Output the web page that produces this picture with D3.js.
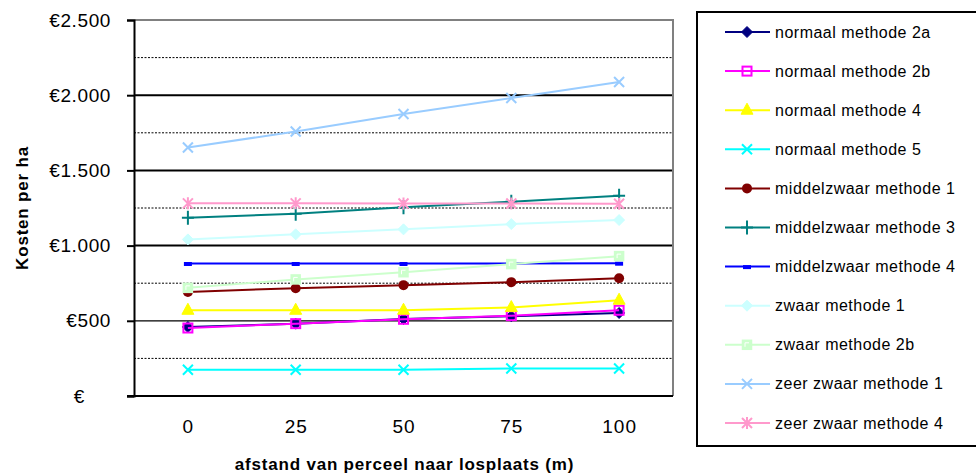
<!DOCTYPE html>
<html>
<head>
<meta charset="utf-8">
<script src="https://cdn.jsdelivr.net/npm/d3@7"></script>
<style>
  html, body { margin: 0; padding: 0; background: #fff; }
  svg { display: block; font-family: Arial, "Liberation Sans", sans-serif; }
</style>
</head>
<body>
<svg id="chart" width="976" height="476"></svg>
<script>
// ---- data ----
const categories = ["0", "25", "50", "75", "100"];
const seriesNames = [
  "normaal methode 2a", "normaal methode 2b", "normaal methode 4", "normaal methode 5",
  "middelzwaar methode 1", "middelzwaar methode 3", "middelzwaar methode 4",
  "zwaar methode 1", "zwaar methode 2b", "zeer zwaar methode 1", "zeer zwaar methode 4"
];
const normaal2a = [459, 481, 512, 530, 552];
const normaal2b = [452, 481, 510, 534, 570];
const normaal4 = [570, 570, 570, 588, 637];
const normaal5 = [175, 175, 175, 183, 183];
const middelzwaar1 = [692, 717, 737, 757, 783];
const middelzwaar3 = [1185, 1212, 1255, 1292, 1332];
const middelzwaar4 = [881, 881, 881, 881, 883];
const zwaar1 = [1041, 1075, 1108, 1143, 1170];
const zwaar2b = [719, 775, 823, 877, 930];
const zeerzwaar1 = [1652, 1759, 1875, 1981, 2088];
const zeerzwaar4 = [1281, 1281, 1280, 1280, 1278];
const yTicks = [0, 500, 1000, 1500, 2000, 2500];
const yMinorTicks = [250, 750, 1250, 1750, 2250];
const yTickLabels = ["€", "€500", "€1.000", "€1.500", "€2.000", "€2.500"];
const xTitle = "afstand van perceel naar losplaats (m)";
const yTitle = "Kosten per ha";

const seriesValues = [normaal2a, normaal2b, normaal4, normaal5, middelzwaar1, middelzwaar3,
  middelzwaar4, zwaar1, zwaar2b, zeerzwaar1, zeerzwaar4];
const colors = ["#000080", "#FF00FF", "#FFFF00", "#00FFFF", "#800000", "#008080",
  "#0000FF", "#CCFFFF", "#CCFFCC", "#99CCFF", "#FF99CC"];
const markers = ["diamond", "squareOpen", "triangle", "x", "circle", "plus",
  "dash", "diamond", "squareLight", "x", "star"];

const series = seriesNames.map((n, i) => ({ name: n, values: seriesValues[i], color: colors[i], marker: markers[i] }));

// ---- layout ----
const plot = { left: 134, right: 673, top: 20, bottom: 396 };
const svg = d3.select("#chart");

const x = d3.scalePoint().domain(categories).range([plot.left, plot.right]).padding(0.5);
const y = d3.scaleLinear().domain([0, 2500]).range([plot.bottom, plot.top]);

// minor dotted gridlines
svg.append("g").selectAll("line").data(yMinorTicks).join("line")
  .attr("x1", plot.left).attr("x2", plot.right)
  .attr("y1", d => y(d)).attr("y2", d => y(d))
  .attr("stroke", "#000").attr("stroke-width", 1).attr("stroke-dasharray", "2,1.5");

// major gridlines
svg.append("g").selectAll("line").data(yTicks.filter(d => d > 0 && d < 2500)).join("line")
  .attr("x1", plot.left).attr("x2", plot.right)
  .attr("y1", d => y(d)).attr("y2", d => y(d))
  .attr("stroke", "#000").attr("stroke-width", d => d === 500 ? 1.3 : 2);

// plot border top/right gray
svg.append("path")
  .attr("d", `M${plot.left},${plot.top}H${plot.right}V${plot.bottom}`)
  .attr("fill", "none").attr("stroke", "#808080").attr("stroke-width", 2);

// y axis
const yAxis = d3.axisLeft(y).tickValues(yTicks).tickSize(7).tickPadding(16)
  .tickFormat((d, i) => yTickLabels[i]);
const gy = svg.append("g").attr("transform", `translate(${plot.left},0)`).call(yAxis);
gy.select(".domain").attr("stroke", "#000").attr("stroke-width", 2);
gy.selectAll(".tick line").attr("stroke", "#000").attr("stroke-width", 2);
gy.selectAll(".tick text").attr("font-size", 19).attr("fill", "#000").attr("letter-spacing", 0.6)
  .attr("font-family", "Arial, 'Liberation Sans', sans-serif")
  .attr("dx", d => d === 0 ? -26 : 0);

// x axis
const xAxis = d3.axisBottom(x).tickSize(0).tickPadding(24);
const gx = svg.append("g").attr("transform", `translate(0,${plot.bottom})`).call(xAxis);
gx.select(".domain").attr("stroke", "#000").attr("stroke-width", 2)
  .attr("d", `M${plot.left - 7},0H${plot.right}`);
gx.selectAll(".tick text").attr("font-size", 19).attr("fill", "#000").attr("letter-spacing", 1)
  .attr("font-family", "Arial, 'Liberation Sans', sans-serif");

// axis titles
svg.append("text").attr("x", (plot.left + plot.right) / 2 + 1).attr("y", 470)
  .attr("text-anchor", "middle").attr("font-size", 17).attr("font-weight", "bold")
  .attr("letter-spacing", 0.8).text(xTitle);
svg.append("text").attr("transform", `translate(28,${(plot.top + plot.bottom) / 2}) rotate(-90)`)
  .attr("text-anchor", "middle").attr("font-size", 17).attr("font-weight", "bold")
  .attr("letter-spacing", 0.8).text(yTitle);

// marker drawing
function drawMarker(g, type, color) {
  switch (type) {
    case "diamond":
      g.append("path").attr("d", "M0,-5.5L5.5,0L0,5.5L-5.5,0Z").attr("fill", color).attr("stroke", color);
      break;
    case "squareOpen":
      g.append("rect").attr("x", -4.5).attr("y", -4.5).attr("width", 9).attr("height", 9)
        .attr("fill", "none").attr("stroke", color).attr("stroke-width", 2);
      break;
    case "squareLight":
      g.append("rect").attr("x", -4.5).attr("y", -4.5).attr("width", 9).attr("height", 9)
        .attr("fill", color).attr("stroke", color).attr("stroke-width", 1.5);
      g.append("path").attr("d", "M-2,2V-2H2").attr("fill", "none").attr("stroke", "#fff").attr("stroke-width", 1);
      break;
    case "triangle":
      g.append("path").attr("d", "M0,-7L6,4L-6,4Z").attr("fill", color).attr("stroke", color);
      break;
    case "x":
      g.append("path").attr("d", "M-5,-5L5,5M-5,5L5,-5").attr("stroke", color).attr("stroke-width", 2);
      break;
    case "circle":
      g.append("circle").attr("r", 5).attr("fill", color);
      break;
    case "plus":
      g.append("path").attr("d", "M0,-7V7M-6,0H6").attr("stroke", color).attr("stroke-width", 2);
      break;
    case "dash":
      g.append("rect").attr("x", -4).attr("y", -1.5).attr("width", 8).attr("height", 4).attr("fill", color);
      break;
    case "star":
      g.append("path").attr("d", "M-5,-5L5,5M-5,5L5,-5M0,-6V6").attr("stroke", color).attr("stroke-width", 2);
      break;
  }
}

// series
const line = d3.line().x((d, i) => x(categories[i])).y(d => y(d));
series.forEach(s => {
  const g = svg.append("g");
  g.append("path").datum(s.values).attr("d", line)
    .attr("fill", "none").attr("stroke", s.color).attr("stroke-width", 2);
  s.values.forEach((v, i) => {
    const mg = g.append("g").attr("transform", `translate(${x(categories[i])},${y(v)})`);
    drawMarker(mg, s.marker, s.color);
  });
});

// legend
const legend = svg.append("g");
legend.append("rect").attr("x", 697).attr("y", 12).attr("width", 290).attr("height", 434)
  .attr("fill", "#fff").attr("stroke", "#000").attr("stroke-width", 2);
const ly = d3.scalePoint().domain(seriesNames).range([32, 423]);
series.forEach(s => {
  const g = legend.append("g").attr("transform", `translate(0,${ly(s.name)})`);
  g.append("line").attr("x1", 725).attr("x2", 770).attr("y1", 0).attr("y2", 0)
    .attr("stroke", s.color).attr("stroke-width", 2);
  drawMarker(g.append("g").attr("transform", "translate(747,0)"), s.marker, s.color);
  g.append("text").attr("x", 775).attr("y", 5.5).attr("font-size", 16).attr("letter-spacing", 0.5)
    .attr("fill", "#000").text(s.name);
});
</script>
</body>
</html>
